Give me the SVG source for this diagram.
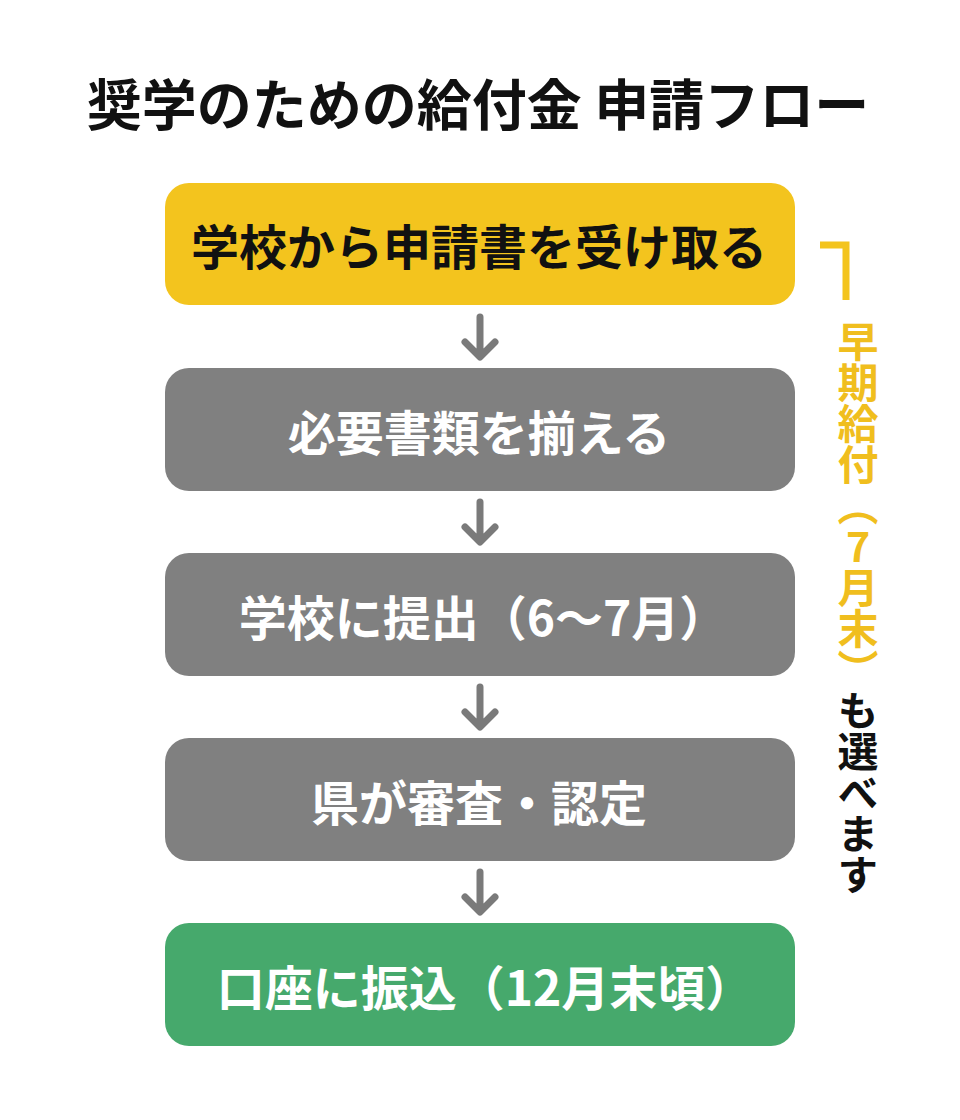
<svg xmlns="http://www.w3.org/2000/svg" width="960" height="1120" viewBox="0 0 960 1120">
<style>
.t{font-family:"Noto Sans CJK JP","Noto Sans",sans-serif;font-weight:700}
.lbl{font-size:48px;text-anchor:middle;dominant-baseline:central}
.arr{fill:none;stroke:#7a7a7a;stroke-width:7;stroke-linecap:round;stroke-linejoin:round}
</style>
<rect width="960" height="1120" fill="#ffffff"/>
<text class="t" x="478" y="101" font-size="55" text-anchor="middle" dominant-baseline="central" fill="#111">奨学のための給付金 申請フロー</text>
<g id="n1"><rect x="165" y="183" width="630" height="122" rx="24" fill="#F3C41E"/><text class="t lbl" x="479" y="244" fill="#111">学校から申請書を受け取る</text></g>
<g id="n2"><rect x="165" y="368" width="630" height="123" rx="24" fill="#808080"/><text class="t lbl" x="479" y="430" fill="#fff">必要書類を揃える</text></g>
<g id="n3"><rect x="165" y="553" width="630" height="123" rx="24" fill="#808080"/><text class="t lbl" x="483" y="615" fill="#fff">学校に提出（6〜7月）</text></g>
<g id="n4"><rect x="165" y="738" width="630" height="123" rx="24" fill="#808080"/><text class="t lbl" x="479" y="800" fill="#fff">県が審査・認定</text></g>
<g id="n5"><rect x="165" y="923" width="630" height="123" rx="24" fill="#46A96C"/><text class="t lbl" x="485" y="985" fill="#fff">口座に振込（12月末頃）</text></g>
<g id="connectors">
<path class="arr" d="M480 317V356M465 342L480 357L495 342"/>
<path class="arr" d="M480 502V541M465 527L480 542L495 527"/>
<path class="arr" d="M480 687V726M465 712L480 727L495 712"/>
<path class="arr" d="M480 872V911M465 897L480 912L495 897"/>
</g>
<g id="note">
<path d="M820 245H846V300" fill="none" stroke="#F3C41E" stroke-width="7"/>
<text class="t" x="858" y="321" font-size="41" style="writing-mode:vertical-rl;text-orientation:upright" fill="#111"><tspan fill="#F0BE1E">早期給付（7月末）</tspan>も選べます</text>
</g>
</svg>
